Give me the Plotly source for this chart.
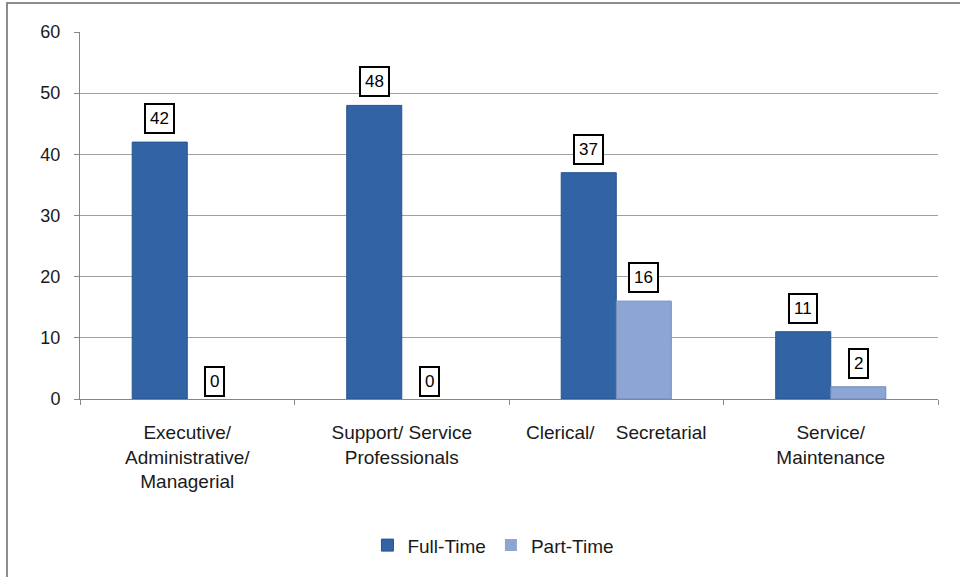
import plotly.graph_objects as go

categories = ["Executive/<br>Administrative/<br>Managerial",
              "Support/ Service<br>Professionals",
              "Clerical/\u00a0\u00a0\u00a0\u00a0Secretarial",
              "Service/<br>Maintenance"]
full_time = [42, 48, 37, 11]
part_time = [0, 0, 16, 2]
series_names = ["Full-Time", "Part-Time"]
y_ticks = [0, 10, 20, 30, 40, 50, 60]

W, H = 960, 577
ML, MR, MT, MB = 80, 22, 32, 178
BARGAP = 0.487
FONT = "Liberation Sans, Arial, sans-serif"

colors = ["#3163A5", "#8CA5D3"]
edge = ["#28528C", "#728BBB"]

fig = go.Figure()
for name, vals, c, e in zip(series_names, [full_time, part_time], colors, edge):
    fig.add_trace(go.Bar(x=categories, y=vals, name=name,
                         marker=dict(color=c,
                                     line=dict(color=e, width=[1 if v > 0 else 0 for v in vals]))))

# data label boxes
plot_w = W - ML - MR
bar_w = plot_w / len(categories) * (1 - BARGAP) / 2
for k, vals in enumerate([full_time, part_time]):
    shift = (k - 0.5) * bar_w
    for cat, v in zip(categories, vals):
        fig.add_annotation(x=cat, y=v, text=str(v), showarrow=False,
                           xshift=shift, yshift=8 if v > 0 else 2,
                           yanchor="bottom",
                           font=dict(family=FONT, size=17, color="#000"),
                           bgcolor="white", bordercolor="black",
                           borderwidth=2, borderpad=4)

# chart border
px = lambda x: (x - ML) / plot_w
py = lambda y: (H - MB - y) / (H - MT - MB)
fig.add_shape(type="rect", xref="paper", yref="paper",
              x0=px(7), x1=px(1000), y0=py(620), y1=py(3),
              line=dict(color="#8C8C8C", width=2), fillcolor="rgba(0,0,0,0)",
              layer="below")

fig.update_layout(
    width=W, height=H,
    margin=dict(l=ML, r=MR, t=MT, b=MB),
    paper_bgcolor="white", plot_bgcolor="white",
    barmode="group", bargap=BARGAP, bargroupgap=0,
    font=dict(family=FONT, size=18, color="#1a1a1a"),
    showlegend=True,
    legend=dict(orientation="h", xref="container", yref="container",
                x=0.514, y=0.055, xanchor="center", yanchor="middle",
                font=dict(size=19), itemwidth=30, traceorder="normal"),
    xaxis=dict(type="category", showline=True, linecolor="#868686", linewidth=1,
               ticks="outside", tickson="boundaries", ticklen=5, tickcolor="#868686",
               showgrid=False, ticklabelstandoff=16,
               tickfont=dict(family=FONT, size=19, color="#1a1a1a")),
    yaxis=dict(range=[0, 60], tickvals=y_ticks, showline=True, linecolor="#868686",
               ticks="outside", ticklen=5, tickcolor="#868686",
               showgrid=True, gridcolor="#A0A0A0", gridwidth=1, zeroline=False,
               ticklabelstandoff=10,
               tickfont=dict(family=FONT, size=18, color="#1a1a1a")),
)

fig.write_html("out.html", config={"displayModeBar": False},
               post_script="document.body.style.margin='0';document.body.style.overflow='hidden';")
